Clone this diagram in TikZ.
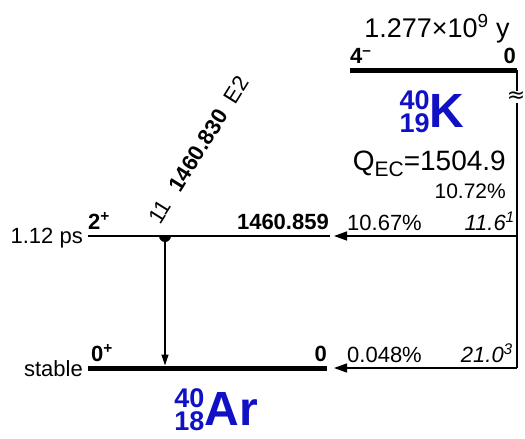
\documentclass[tikz,border=0pt]{standalone}
\usepackage{fontspec}
\setmainfont{Liberation Sans}
\newfontfamily\symfont{DejaVu Sans}
\usepackage{xcolor}
\usetikzlibrary{arrows.meta, positioning}
\definecolor{nucblue}{RGB}{16, 16, 196}
\newcommand{\nuclide}[3]{\raisebox{-5pt}{\begin{tabular}[b]{@{}r@{}}#1\\[-4pt]#2\end{tabular}}\fontsize{48}{48}\selectfont #3}
\tikzset{
  thicklvl/.style={line width=5pt},
  thinlvl/.style={line width=1.4pt},
  txt/.style={inner sep=0pt, font=\fontsize{22}{26}\selectfont},
  boldtxt/.style={inner sep=0pt, font=\fontsize{22}{26}\selectfont\bfseries},
  bigtxt/.style={inner sep=0pt, font=\fontsize{27}{31}\selectfont},
  nuc/.style={inner sep=0pt, text=nucblue, font=\fontsize{27}{27}\selectfont\bfseries},
  feed/.style={line width=1.4pt, -{Triangle[length=13pt,width=9pt]}},
  gam/.style={line width=1.2pt, -{Triangle[length=11pt,width=7pt]}}
}

\begin{document}
\begin{tikzpicture}[x=1pt, y=1pt]
  \useasboundingbox (0,0) rectangle (525,-439);

  % levels
  \coordinate (Kl) at (350,-70);  \coordinate (Kr) at (517,-70);
  \coordinate (exl) at (88,-236); \coordinate (exr) at (330,-236);
  \coordinate (gsl) at (88,-368); \coordinate (gsr) at (327,-368);
  \draw[thicklvl] (Kl) -- (Kr);
  \draw[thinlvl] (exl) -- (exr);
  \draw[thicklvl] (gsl) -- (gsr);

  % parent
  \node[bigtxt, anchor=base] (thalf) at (437,-37) {1.277×10\textsuperscript{9} y};
  \node[boldtxt, anchor=base west] (Kspin) at (350,-63) {4\textsuperscript{–}};
  \node[boldtxt, anchor=base east] (Ken) at (516,-63) {0};
  \node[nuc, anchor=base] (Knuc) at (432,-127) {\nuclide{40}{19}{K}};
  \node[bigtxt, font=\fontsize{28}{32}\selectfont, anchor=base east] (Qec) at (506,-170)
    {Q\raisebox{-6pt}{\fontsize{21}{21}\selectfont EC}=1504.9};
  \node[txt, font=\fontsize{21}{25}\selectfont, anchor=base east] (Ktot) at (506,-198) {10.72\%};

  % EC feeding
  \coordinate (fex) at (517,-236);
  \coordinate (fgs) at (517,-368);
  \draw[thinlvl] (Kr) -- (fgs);
  \node[fill=white, inner sep=1pt, font=\symfont\fontsize{22}{22}\selectfont] (brk) at (516,-97) {≈};
  \draw[feed] (fex) -- ([xshift=4pt]exr);
  \draw[feed] (fgs) -- ([xshift=7pt]gsr);
  \node[txt, anchor=base west] (Iex) at (347,-230) {10.67\%};
  \node[txt, anchor=base east] (ftex) at (515,-230) {\itshape 11.6\textsuperscript{1}};
  \node[txt, anchor=base west] (Igs) at (347,-362) {0.048\%};
  \node[txt, anchor=base east] (ftgs) at (513,-362) {\itshape 21.0\textsuperscript{3}};

  % daughter
  \node[txt, anchor=base east] (exT) at (83,-243) {1.12 ps};
  \node[boldtxt, anchor=base west] (exJ) at (88,-229) {2\textsuperscript{+}};
  \node[boldtxt, anchor=base east] (exE) at (329,-229) {1460.859};
  \node[txt, anchor=base east] (gsT) at (83,-376) {stable};
  \node[boldtxt, anchor=base west] (gsJ) at (91,-361) {0\textsuperscript{+}};
  \node[boldtxt, anchor=base east] (gsE) at (327,-361) {0};
  \node[nuc, anchor=base] (Arnuc) at (216,-425) {\nuclide{40}{18}{Ar}};

  % gamma
  \coordinate (gtop) at (165,-236);
  \coordinate (gbot) at (165,-365.5);
  \fill (159,-236) arc[start angle=180, end angle=360, radius=6];
  \draw[gam] (gtop) -- (gbot);
  \node[txt, rotate=58, anchor=base west] (glbl) at (160,-226)
    {11\hspace{0.7em}\textbf{1460.830}\hspace{0.55em}E2};
\end{tikzpicture}
\end{document}
